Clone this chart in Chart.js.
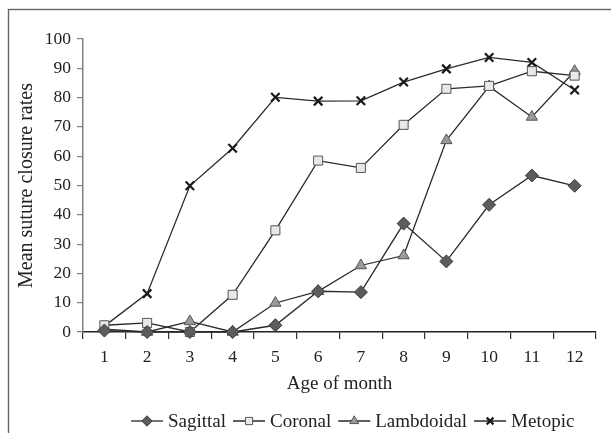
<!DOCTYPE html>
<html>
<head>
<meta charset="utf-8">
<script src="https://cdn.jsdelivr.net/npm/chart.js@4/dist/chart.umd.min.js"></script>
<style>
  html, body { margin: 0; padding: 0; background: #fff; }
  #wrap { width: 611px; height: 433px; }
</style>
</head>
<body>
<div id="wrap"><canvas id="c"></canvas></div>
<script>
const months = ['1', '2', '3', '4', '5', '6', '7', '8', '9', '10', '11', '12'];
const sagittal = [0.5, 0, 0, 0, 2.3, 13.9, 13.6, 37, 24.1, 43.4, 53.4, 49.9];
const coronal = [2.3, 3.1, 0, 12.7, 34.7, 58.5, 56, 70.7, 83, 84, 89, 87.5];
const lambdoidal = [1, 0, 3.6, 0, 9.9, 13.9, 22.7, 26.1, 65.4, 83.8, 73.4, 89];
const metopic = [2, 13.1, 49.9, 62.7, 80.1, 78.8, 78.9, 85.3, 89.8, 93.7, 92, 82.6];

const serif = '"Liberation Serif", "DejaVu Serif", serif';
Chart.defaults.font.family = serif;
Chart.defaults.color = '#222';

function series(label, data, style, fill, border, radius, bw) {
    return {
        label: label,
        data: data,
        borderColor: '#2a2a2a',
        borderWidth: 1.3,
        tension: 0,
        clip: false,
        pointStyle: style,
        pointRadius: radius,
        pointHoverRadius: radius,
        pointBackgroundColor: fill,
        pointBorderColor: border,
        pointBorderWidth: bw
    };
}

// frame around the whole figure
const framePlugin = {
    id: 'frame',
    beforeDraw(chart) {
        const ctx = chart.ctx;
        ctx.save();
        ctx.strokeStyle = '#666';
        ctx.lineWidth = 1.4;
        ctx.strokeRect(8.5, 9.5, 700, 500);
        ctx.restore();
    }
};

// excel-like legend: line with marker, then label
const legendPlugin = {
    id: 'lineLegend',
    afterDraw(chart) {
        const ctx = chart.ctx;
        const y = 421;
        let x = 131;
        ctx.save();
        ctx.font = '19px ' + serif;
        ctx.textBaseline = 'middle';
        ctx.textAlign = 'left';
        chart.data.datasets.forEach((ds) => {
            ctx.strokeStyle = ds.borderColor;
            ctx.lineWidth = ds.borderWidth;
            ctx.beginPath();
            ctx.moveTo(x, y);
            ctx.lineTo(x + 32, y);
            ctx.stroke();
            ctx.fillStyle = ds.pointBackgroundColor;
            ctx.strokeStyle = ds.pointBorderColor;
            ctx.lineWidth = ds.pointBorderWidth;
            Chart.helpers.drawPoint(ctx, {pointStyle: ds.pointStyle, radius: ds.pointRadius * 0.8, borderWidth: ds.pointBorderWidth}, x + 16, y);
            ctx.fillStyle = '#222';
            ctx.fillText(ds.label, x + 37, y + 1);
            x += 37 + ctx.measureText(ds.label).width + 7;
        });
        ctx.restore();
    }
};

new Chart(document.getElementById('c'), {
    type: 'line',
    data: {
        labels: months,
        datasets: [
            series('Sagittal', sagittal, 'rectRot', '#5c5c5c', '#3a3a3a', 6.5, 1),
            series('Coronal', coronal, 'rect', '#e8e8e8', '#555', 6.4, 1),
            series('Lambdoidal', lambdoidal, 'triangle', '#9a9a9a', '#555', 6.5, 1),
            series('Metopic', metopic, 'crossRot', '#1a1a1a', '#1a1a1a', 6, 2.2)
        ]
    },
    options: {
        responsive: true,
        maintainAspectRatio: false,
        animation: false,
        events: [],
        layout: { padding: { top: 39, right: 15, bottom: 0, left: 0 } },
        plugins: {
            legend: { display: false },
            tooltip: { enabled: false }
        },
        scales: {
            x: {
                type: 'category',
                offset: true,
                grid: { offset: true, drawOnChartArea: false, drawTicks: true, tickLength: 7, color: '#333', lineWidth: 1.2 },
                border: { display: true, color: '#222', width: 1.4 },
                ticks: { font: { size: 17.5 }, color: '#222', padding: 8, maxRotation: 0, autoSkip: false },
                title: { display: true, text: 'Age of month', font: { size: 19 }, color: '#222', padding: { top: 0, bottom: 38 } },
                afterFit(scale) { scale.height = 101; }
            },
            y: {
                min: 0,
                max: 100,
                ticks: { stepSize: 10, font: { size: 17.5 }, color: '#222', padding: 6 },
                grid: { drawOnChartArea: false, drawTicks: true, tickLength: 6, color: '#808080', lineWidth: 1.2 },
                border: { display: true, color: '#808080', width: 1.5 },
                title: { display: true, text: 'Mean suture closure rates', font: { size: 20 }, color: '#222', padding: { top: 15, bottom: 0 } },
                afterFit(scale) { scale.width = 83; }
            }
        }
    },
    plugins: [framePlugin, legendPlugin]
});
</script>
</body>
</html>
